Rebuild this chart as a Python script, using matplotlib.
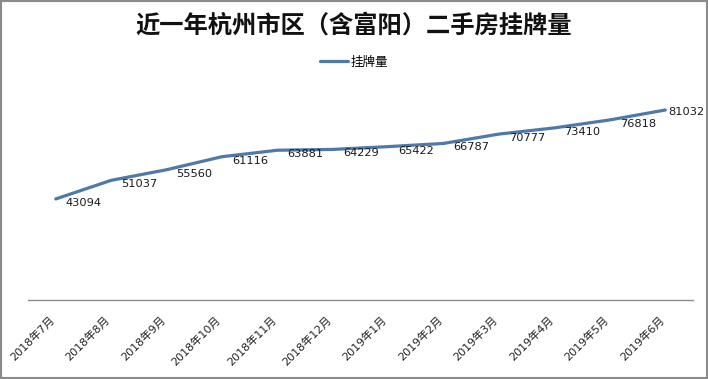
import matplotlib
matplotlib.use("Agg")
import matplotlib.pyplot as plt
from matplotlib.patches import Rectangle
import matplotlib.transforms as mtransforms

plt.rcParams['font.family'] = ['DejaVu Sans', 'Noto Sans CJK SC']

title = "近一年杭州市区（含富阳）二手房挂牌量"
series_name = "挂牌量"
months = ["2018年7月", "2018年8月", "2018年9月", "2018年10月", "2018年11月", "2018年12月",
          "2019年1月", "2019年2月", "2019年3月", "2019年4月", "2019年5月", "2019年6月"]
listings = [43094, 51037, 55560, 61116, 63881, 64229, 65422, 66787, 70777, 73410, 76818, 81032]

line_color = "#4f79a8"

fig = plt.figure(figsize=(7.08, 3.79), dpi=100)
W, H = 708, 379
ax = fig.add_axes([28 / W, 1 - 300 / H, (693 - 28) / W, (300 - 89) / H])

x = list(range(len(months)))
ax.plot(x, listings, color=line_color, lw=2.3, solid_joinstyle='round',
        solid_capstyle='round', label=series_name)

ax.set_xlim(-0.5, len(months) - 0.5)
ax.set_ylim(0, 90000)
ax.set_yticks([])
for s in ['top', 'left', 'right']:
    ax.spines[s].set_visible(False)
ax.spines['bottom'].set_color('#8c8c8c')
ax.spines['bottom'].set_linewidth(1.0)
ax.tick_params(axis='x', length=0, pad=13)
ax.set_xticks(x)
ax.set_xticklabels(months, rotation=45, ha='right', va='center',
                   rotation_mode='anchor', fontsize=8, color='#222222')
offset = mtransforms.ScaledTranslation(-3 / 100, 0, fig.dpi_scale_trans)
for lab in ax.get_xticklabels():
    lab.set_transform(lab.get_transform() + offset)

for i, v in enumerate(listings):
    dx, dy = (10, -4) if i < len(listings) - 1 else (3, -2)
    ax.annotate(str(v), (i, v), xytext=(dx, dy), textcoords='offset pixels',
                ha='left', va='center', fontsize=8.2, color='#1a1a1a',
                annotation_clip=False)

fig.text(0.5, 1 - 26 / H, title, ha='center', va='center', fontsize=17.5,
         family=['Noto Sans CJK SC'], fontweight='bold', color='#111111')

leg = fig.legend(loc='center', bbox_to_anchor=(354 / W, 1 - 62 / H), frameon=False,
                 prop={'family': ['Noto Sans CJK SC'], 'size': 9},
                 handlelength=2.3, handletextpad=0.2)

fig.patches.append(Rectangle((0.001, 0.002), 0.997, 0.996, transform=fig.transFigure,
                             fill=False, edgecolor='#8a8a8a', lw=1.5))

fig.savefig("out.png", dpi=100, facecolor='white')
